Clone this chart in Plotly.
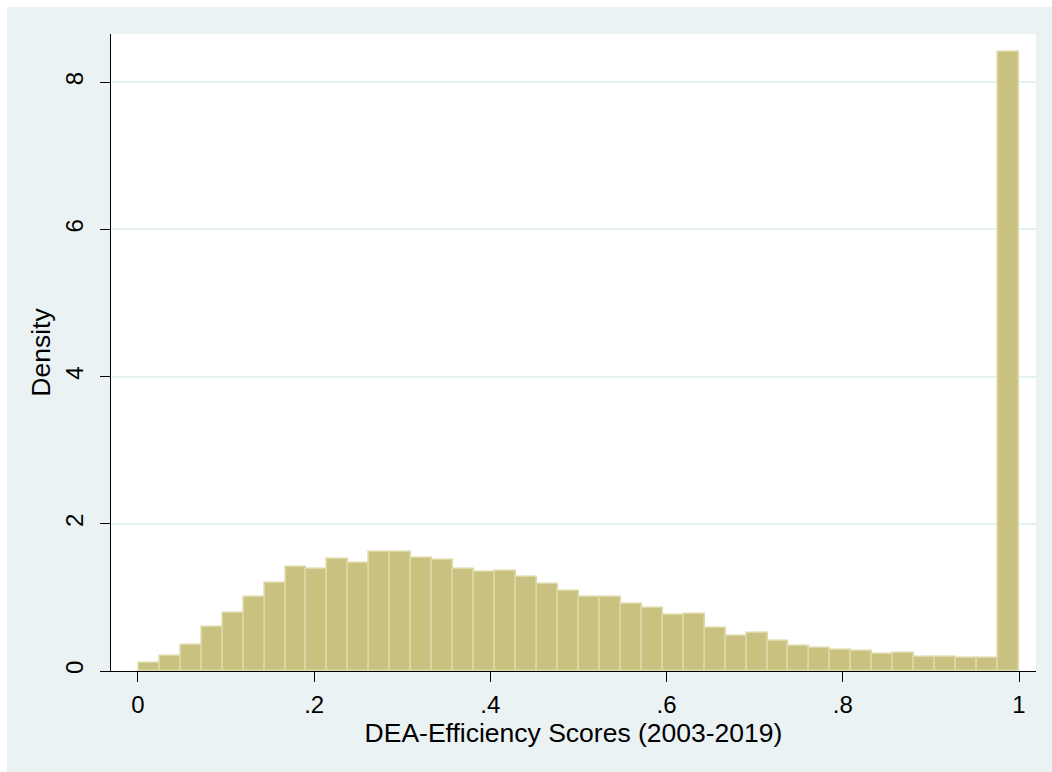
import numpy as np
import plotly.graph_objects as go

# Histogram of DEA efficiency scores: density per bin
density = [
    0.105, 0.208, 0.354, 0.599, 0.785, 1.003, 1.197, 1.415, 1.388, 1.524,
    1.469, 1.619, 1.619, 1.537, 1.510, 1.388, 1.351, 1.360, 1.279, 1.184,
    1.088, 1.003, 1.003, 0.911, 0.853, 0.762, 0.771, 0.581, 0.472, 0.513,
    0.404, 0.340, 0.308, 0.281, 0.268, 0.227, 0.240, 0.190, 0.186, 0.172,
    0.172, 8.410,
]
score_min = 0.001
score_max = 1.0

x_tick_vals = [0, 0.2, 0.4, 0.6, 0.8, 1.0]
x_tick_text = ["0", ".2", ".4", ".6", ".8", "1"]
y_tick_vals = [0, 2, 4, 6, 8]
y_tick_text = ["0", "2", "4", "6", "8"]

x_title = "DEA-Efficiency Scores (2003-2019)"
y_title = "Density"

edges = np.linspace(score_min, score_max, len(density) + 1)
centers = (edges[:-1] + edges[1:]) / 2
bin_width = edges[1] - edges[0]

FONT = "Liberation Sans, Arial, Helvetica, sans-serif"
BG = "#EAF2F3"
GRID = "#E6EFF1"

fig = go.Figure(
    go.Bar(
        x=centers,
        y=density,
        width=bin_width,
        marker=dict(color="#C9C17F", line=dict(color="#DCD7A5", width=1.6)),
        hoverinfo="skip",
    )
)

W, H = 1052, 772
L, R, T, B = 111, 16, 34, 101
pw, ph = W - L - R, H - T - B

fig.update_layout(
    width=W,
    height=H,
    margin=dict(l=L, r=R, t=T, b=B, pad=0),
    paper_bgcolor=BG,
    plot_bgcolor="white",
    showlegend=False,
    bargap=0,
    font=dict(family=FONT, color="black"),
    shapes=[
        # thin white frame along the top and left edges of the page
        dict(type="rect", xref="paper", yref="paper", layer="below",
             x0=-L / pw, x1=(W - L) / pw, y0=(ph + T - 7) / ph, y1=(ph + T) / ph,
             fillcolor="white", line=dict(width=0)),
        dict(type="rect", xref="paper", yref="paper", layer="below",
             x0=-L / pw, x1=(7 - L) / pw, y0=-B / ph, y1=(ph + T) / ph,
             fillcolor="white", line=dict(width=0)),
    ],
)

fig.update_xaxes(
    range=[-0.0306, 1.0193],
    tickvals=x_tick_vals,
    ticktext=x_tick_text,
    ticks="outside",
    ticklen=10,
    tickwidth=1,
    tickcolor="black",
    tickfont=dict(size=24, family=FONT),
    ticklabelstandoff=2,
    showline=True,
    linecolor="black",
    linewidth=1,
    showgrid=False,
    zeroline=False,
    title=dict(text=x_title, font=dict(size=26.5, family=FONT), standoff=5),
)

fig.update_yaxes(
    range=[0, 8.655],
    tickvals=y_tick_vals,
    ticktext=y_tick_text,
    tickangle=-90,
    ticks="outside",
    ticklen=10,
    tickwidth=1,
    tickcolor="black",
    tickfont=dict(size=24, family=FONT),
    ticklabelstandoff=7,
    showline=True,
    linecolor="black",
    linewidth=1,
    showgrid=True,
    gridcolor=GRID,
    gridwidth=1.5,
    zeroline=False,
    title=dict(text=y_title, font=dict(size=26.5, family=FONT), standoff=3),
)

fig.write_html("out.html")
